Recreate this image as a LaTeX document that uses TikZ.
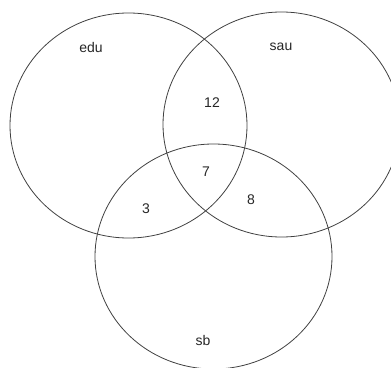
\documentclass[tikz,border=0pt]{standalone}
\usepackage{fontspec}
\setmainfont{Liberation Sans}
\usetikzlibrary{positioning}

\begin{document}
\begin{tikzpicture}[x=1pt, y=-1pt, line width=0.8pt,
	lab/.style={font=\fontsize{14}{16}\selectfont, text=black!85}]
			% 画布
			\useasboundingbox (0, 0) rectangle (391, 367);
			\clip (0, 0) rectangle (391, 367);
			% 三个集合
			\draw[black!75] (128.5, 125.5) ellipse [x radius=118.5, y radius=112.5];
			\draw[black!75] (281.5, 124.5) ellipse [x radius=118.5, y radius=112.5];
			\draw[black!75] (213.5, 256.5) ellipse [x radius=118.5, y radius=112.5];
			% 集合名称
			\node[lab] (edu) at (91, 47) {edu};
			\node[lab] (sau) at (281, 47) {sau};
			\node[lab] (sb) at (203, 340) {sb};
			% 交集数目
			\foreach \name/\x/\y/\n in {ab/212/103/12, abc/206/172/7, ac/146/209/3, bc/251/200/8}
			\node[lab] (\name) at (\x, \y) {\n};
		\end{tikzpicture}
\end{document}
